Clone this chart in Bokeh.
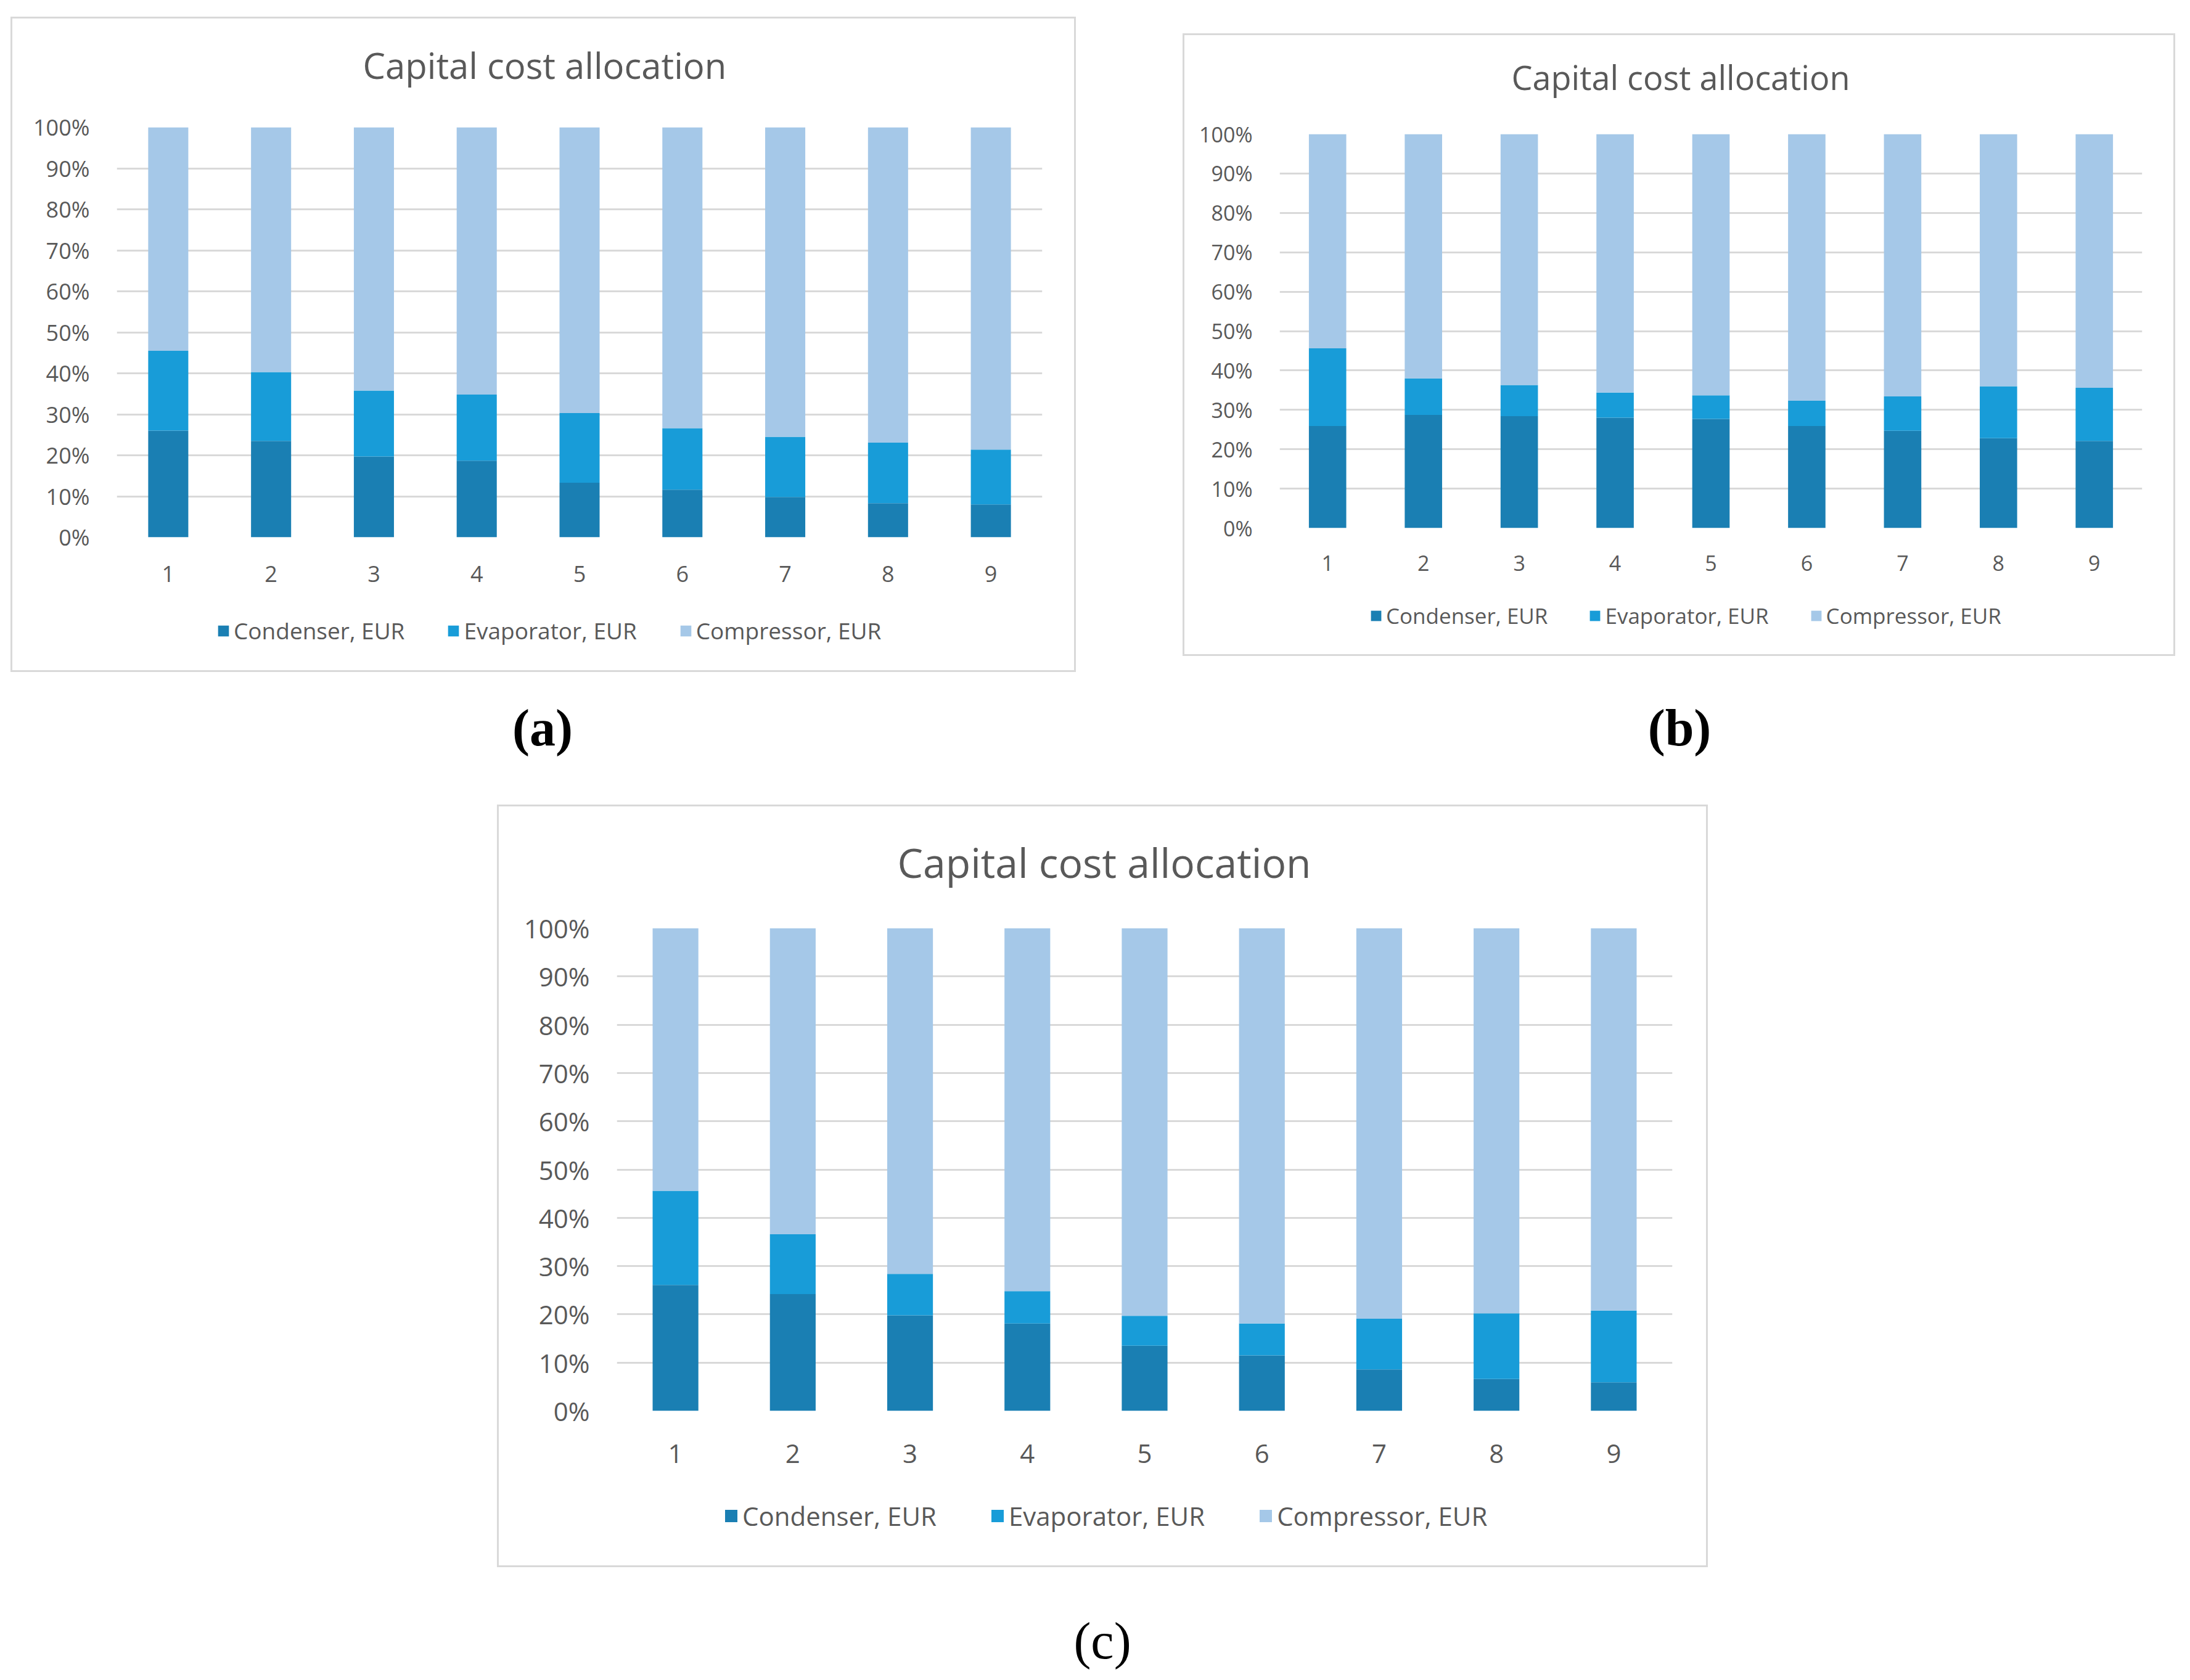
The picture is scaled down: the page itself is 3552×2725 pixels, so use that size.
from bokeh.plotting import figure
from bokeh.models import (Range1d, FactorRange, Legend, LegendItem, Title,
                          PrintfTickFormatter, SingleIntervalTicker, Spacer, Div)
from bokeh.layouts import row, column
from bokeh.embed import file_html
from bokeh.resources import INLINE

cases = ["1", "2", "3", "4", "5", "6", "7", "8", "9"]
series = ["Condenser, EUR", "Evaporator, EUR", "Compressor, EUR"]
colors = ["#1a7fb3", "#189cd8", "#a5c8e8"]
title_text = "Capital cost allocation"

# shares in percent
condenser_a = [26.0, 23.5, 19.7, 18.7, 13.3, 11.6, 9.8, 8.3, 8.0]
evaporator_a = [19.5, 16.8, 16.1, 16.1, 17.0, 15.0, 14.7, 14.8, 13.4]
compressor_a = [54.5, 59.7, 64.2, 65.2, 69.7, 73.4, 75.5, 76.9, 78.6]

condenser_b = [25.9, 28.7, 28.4, 28.0, 27.7, 25.9, 24.7, 22.8, 22.1]
evaporator_b = [19.7, 9.3, 7.9, 6.4, 6.0, 6.4, 8.7, 13.2, 13.5]
compressor_b = [54.4, 62.0, 63.7, 65.6, 66.3, 67.7, 66.6, 64.0, 64.4]

condenser_c = [26.1, 24.2, 19.8, 18.1, 13.5, 11.5, 8.6, 6.6, 5.9]
evaporator_c = [19.5, 12.4, 8.6, 6.7, 6.2, 6.6, 10.5, 13.6, 14.9]
compressor_c = [54.4, 63.4, 71.6, 75.2, 80.3, 81.9, 80.9, 79.8, 79.2]

FONT = "Open Sans"
GREY = "#595959"


def make_panel(cond, evap, comp, w, h_main, h_pad, left, right, top, bottom,
               title_size, tick_size, legend_size, title_gap, title_offset,
               xlab_standoff, glyph, legend_xy, legend_spacing):
    p = figure(width=w, height=h_main, x_range=FactorRange(*cases), y_range=Range1d(0, 100),
               output_backend="svg", toolbar_location=None, title=title_text,
               min_border_left=left, min_border_right=right,
               min_border_top=top, min_border_bottom=bottom)
    p.outline_line_color = None
    p.border_fill_color = "white"

    p.title.align = "left"
    p.title.offset = title_offset
    p.title.standoff = 10
    p.title.text_font = FONT
    p.title.text_font_style = "normal"
    p.title.text_font_size = "%dpx" % title_size
    p.title.text_color = GREY
    # blank strip between the title and the plot area
    p.add_layout(Title(text=" ", text_font_size="1px", standoff=title_gap), "above")

    data = {"case": cases, series[0]: cond, series[1]: evap, series[2]: comp}
    p.vbar_stack(series, x="case", width=0.39, color=colors, source=data,
                 line_color=None)

    p.xgrid.grid_line_color = None
    p.ygrid.grid_line_color = "#d9d9d9"
    p.ygrid.grid_line_width = 3
    p.yaxis.ticker = SingleIntervalTicker(interval=10, num_minor_ticks=0)
    p.yaxis.formatter = PrintfTickFormatter(format="%d%%")
    for ax in (p.xaxis, p.yaxis):
        ax.axis_line_color = None
        ax.major_tick_line_color = None
        ax.minor_tick_line_color = None
        ax.major_label_text_font = FONT
        ax.major_label_text_font_size = "%dpx" % tick_size
        ax.major_label_text_color = GREY
    p.yaxis.major_label_standoff = 38
    p.xaxis.major_label_standoff = xlab_standoff

    # legend strip under the chart, inside the same box; its bars sit
    # outside the visible y range so only the legend keys show
    q = figure(width=w, height=100, x_range=FactorRange(*cases), y_range=Range1d(500, 501),
               output_backend="svg", toolbar_location=None, min_border=0)
    q.axis.visible = False
    q.grid.visible = False
    q.outline_line_color = None
    rs = q.vbar_stack(series, x="case", width=0.39, color=colors, source=data,
                      line_color=None)
    items = [LegendItem(label=s, renderers=[r]) for s, r in zip(series, rs)]
    legend = Legend(items=items, orientation="horizontal", location=legend_xy,
                    label_text_font=FONT, label_text_font_size="%dpx" % legend_size,
                    label_text_color=GREY, glyph_width=glyph, glyph_height=glyph,
                    label_standoff=6, spacing=legend_spacing, padding=4, margin=0,
                    border_line_color=None, background_fill_alpha=0)
    q.add_layout(legend)

    box = column(p, q, Spacer(width=w, height=h_pad))
    box.styles = {"border": "3px solid #d9d9d9", "background-color": "white"}
    return box


box_a = make_panel(condenser_a, evaporator_a, compressor_a, 1722, 943, 14,
                   169, 52, 176, 102, 58, 36, 37, 54, 399, 40, 22, (162, 25), 68)
box_b = make_panel(condenser_b, evaporator_b, compressor_b, 1604, 894, 10,
                   154, 51, 160, 95, 54, 34, 35, 48, 376, 38, 21, (146, 29), 66)
box_c = make_panel(condenser_c, evaporator_c, compressor_c, 1958, 1104, 27,
                   191, 55, 197, 124, 66, 42, 42, 55, 455, 48, 25, (173, 25), 86)


def label(txt, bold, h):
    style = {"font-family": "Liberation Serif", "font-size": "84px",
             "text-align": "center", "line-height": "%dpx" % h, "color": "black",
             "font-weight": "bold" if bold else "normal"}
    return Div(text=txt, width=300, height=h, styles=style)


top_row = row(Spacer(width=17, height=10),
              column(Spacer(width=10, height=27), box_a),
              Spacer(width=173, height=10),
              column(Spacer(width=10, height=54), box_b))
label_row = row(Spacer(width=725, height=10), label("(a)", True, 120),
                Spacer(width=1534, height=10), label("(b)", True, 120))
c_row = row(Spacer(width=806, height=10), box_c)
c_label_row = row(Spacer(width=1633, height=10), label("(c)", False, 90))

page = column(top_row, Spacer(width=10, height=26), label_row,
              Spacer(width=10, height=59), c_row,
              Spacer(width=10, height=70), c_label_row)

open("out.html", "w").write(file_html(page, INLINE))
